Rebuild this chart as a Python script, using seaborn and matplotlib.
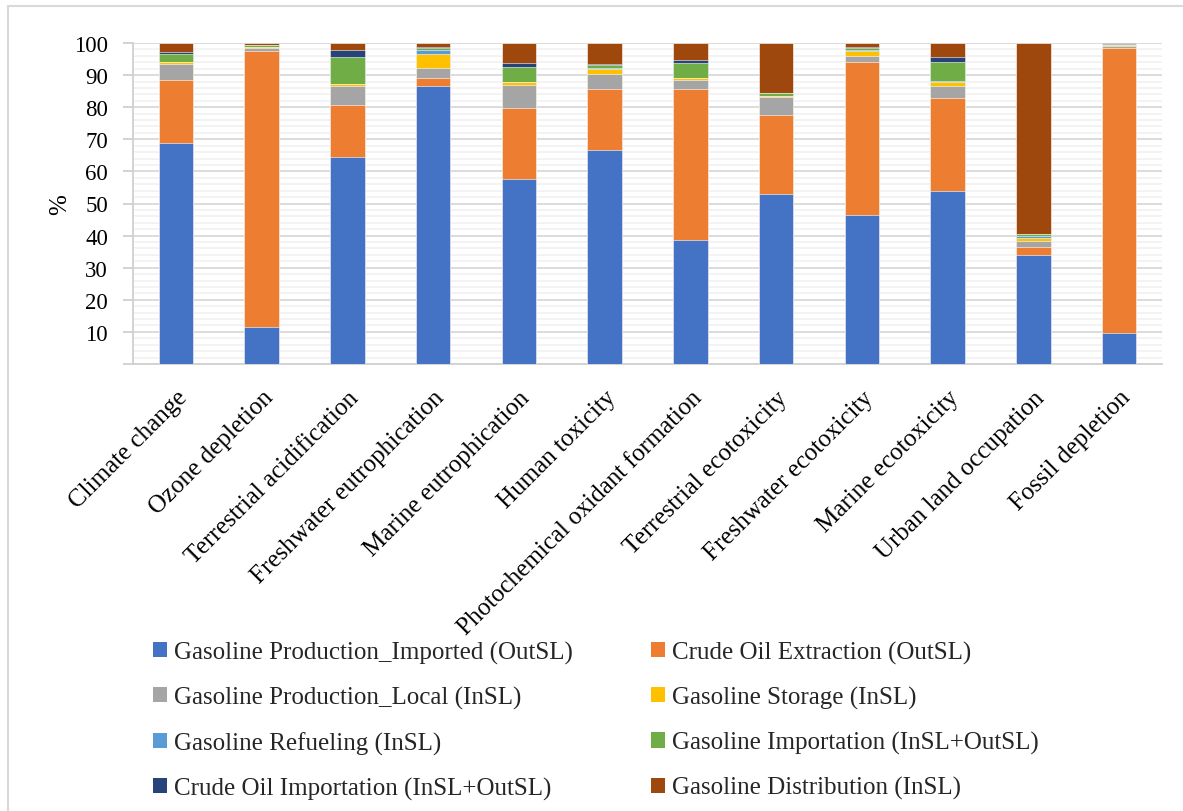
import matplotlib
matplotlib.use("Agg")
import matplotlib.pyplot as plt
from matplotlib.patches import Patch
from matplotlib.lines import Line2D
from matplotlib.ticker import MultipleLocator
import numpy as np
import pandas as pd
import seaborn as sns

# Impact categories (x axis)
categories = [
    "Climate change", "Ozone depletion", "Terrestrial acidification",
    "Freshwater eutrophication", "Marine eutrophication", "Human toxicity",
    "Photochemical oxidant formation", "Terrestrial ecotoxicity",
    "Freshwater ecotoxicity", "Marine ecotoxicity", "Urban land occupation",
    "Fossil depletion",
]

# Contribution of each life-cycle stage, % per category
gasoline_production_imported = [69.0, 11.5, 64.5, 86.5, 57.5, 66.6, 38.5, 53.1, 46.3, 54.0, 33.9, 9.6]
crude_oil_extraction         = [19.5, 86.0, 16.3, 2.5, 22.3, 19.2, 47.1, 24.6, 47.7, 29.0, 2.5, 88.9]
gasoline_production_local    = [5.0, 1.0, 5.9, 3.3, 7.2, 4.6, 3.0, 5.4, 2.1, 3.6, 1.8, 0.7]
gasoline_storage             = [0.5, 0.1, 0.5, 4.4, 0.8, 1.5, 0.4, 0.3, 1.5, 1.4, 1.2, 0.1]
gasoline_refueling           = [0.1, 0.1, 0.1, 1.0, 0.2, 0.4, 0.1, 0.1, 0.3, 0.2, 0.4, 0.1]
gasoline_importation         = [2.5, 0.7, 8.2, 0.8, 4.6, 1.0, 4.6, 0.8, 0.6, 6.0, 0.7, 0.4]
crude_oil_importation        = [0.5, 0.1, 2.3, 0.3, 1.1, 0.1, 0.9, 0.2, 0.2, 1.3, 0.1, 0.1]
gasoline_distribution        = [2.9, 0.5, 2.2, 1.2, 6.3, 6.6, 5.4, 15.5, 1.3, 4.5, 59.4, 0.1]

series_names = [
    "Gasoline Production_Imported (OutSL)",
    "Crude Oil Extraction (OutSL)",
    "Gasoline Production_Local (InSL)",
    "Gasoline Storage (InSL)",
    "Gasoline Refueling (InSL)",
    "Gasoline Importation (InSL+OutSL)",
    "Crude Oil Importation (InSL+OutSL)",
    "Gasoline Distribution (InSL)",
]
series_values = [
    gasoline_production_imported, crude_oil_extraction, gasoline_production_local,
    gasoline_storage, gasoline_refueling, gasoline_importation,
    crude_oil_importation, gasoline_distribution,
]
colors = ["#4472C4", "#ED7D31", "#A5A5A5", "#FFC000",
          "#5B9BD5", "#70AD47", "#264478", "#9E480E"]

y_ticks = [0, 10, 20, 30, 40, 50, 60, 70, 80, 90, 100]
y_tick_labels = ["", "10", "20", "30", "40", "50", "60", "70", "80", "90", "100"]

sns.set_theme(style="white")
plt.rcParams["font.family"] = ["Liberation Serif", "DejaVu Serif"]

fig = plt.figure(figsize=(11.83, 8.12), dpi=100)
ax = fig.add_axes([133 / 1183, 1 - 365 / 812, (1162 - 133) / 1183, (365 - 44) / 812])

# Stacked bars: draw cumulative totals from the top stage down
df = pd.DataFrame(dict(zip(series_names, series_values)), index=categories)
cum = df.cumsum(axis=1)
for name, color in reversed(list(zip(series_names, colors))):
    sns.barplot(x=categories, y=cum[name].values, color=color, width=0.4,
                edgecolor="white", linewidth=0.4, saturation=1, ax=ax, zorder=3)

ax.set_xlim(-0.5, len(categories) - 0.5)
ax.set_ylim(0, 100)
ax.set_yticks(y_ticks)
ax.set_yticklabels(y_tick_labels, fontsize=16.5)
ax.yaxis.set_minor_locator(MultipleLocator(2))
ax.grid(axis="y", which="major", color="#D9D9D9", linewidth=1.3, zorder=0)
ax.grid(axis="y", which="minor", color="#F2F2F2", linewidth=1.3, zorder=0)
ax.set_axisbelow(True)

for side in ["top", "right"]:
    ax.spines[side].set_visible(False)
for side in ["left", "bottom"]:
    ax.spines[side].set_color("#D0D0D0")
    ax.spines[side].set_linewidth(1.3)
ax.tick_params(axis="y", which="major", left=True, length=7, width=1.3,
               color="#D0D0D0", pad=11, labelcolor="black")
ax.tick_params(axis="y", which="minor", left=False)
ax.tick_params(axis="x", bottom=False, pad=10)

ax.set_xticks(range(len(categories)))
ax.set_xticklabels(categories, rotation=45, ha="right", rotation_mode="anchor",
                   fontsize=18, color="black")
ax.set_ylabel("%", fontsize=18, labelpad=2, color="black")
ax.set_xlabel("")

# Legend in two columns below the plot
handles = [Patch(facecolor=c, edgecolor="none") for c in colors]
legend_kw = dict(frameon=False, fontsize=18, handlelength=0.55, handleheight=0.55,
                 handletextpad=0.3, labelspacing=0.88, borderaxespad=0, borderpad=0)
left_idx = [0, 2, 4, 6]
right_idx = [1, 3, 5, 7]
fig.legend([handles[i] for i in left_idx], [series_names[i] for i in left_idx],
           loc="upper left", bbox_to_anchor=(153 / 1183, 1 - 642 / 812), **legend_kw)
fig.legend([handles[i] for i in right_idx], [series_names[i] for i in right_idx],
           loc="upper left", bbox_to_anchor=(651 / 1183, 1 - 642 / 812), **legend_kw)

# Chart area outline
fig.add_artist(Line2D([8 / 1183, 8 / 1183], [0, 1 - 7 / 812], transform=fig.transFigure,
                      color="#D9D9D9", linewidth=1.5))
fig.add_artist(Line2D([8 / 1183, 1], [1 - 7 / 812, 1 - 7 / 812], transform=fig.transFigure,
                      color="#D9D9D9", linewidth=1.5))

fig.savefig("out.png", dpi=100)
